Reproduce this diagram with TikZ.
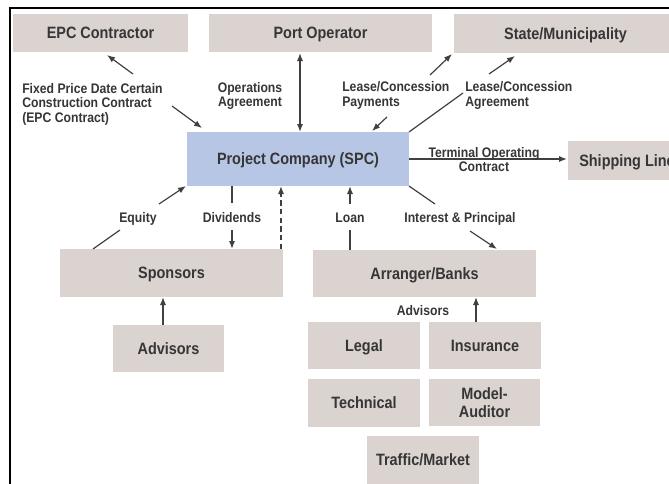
\documentclass[tikz,border=0pt]{standalone}
\usepackage{fontspec}
\setmainfont{Liberation Sans}[FakeStretch=0.88]
\usetikzlibrary{arrows.meta}
\definecolor{boxgrey}{HTML}{DAD3CF}
\definecolor{spcblue}{HTML}{B8C6E5}
\definecolor{txt}{HTML}{363636}
\definecolor{ln}{HTML}{404040}
\tikzset{
  box/.style 2 args={fill=boxgrey, draw=none, inner sep=0pt, minimum width=#1*0.75pt, minimum height=#2*0.75pt,
    text=txt, font=\fontsize{12.3}{14}\selectfont\bfseries, align=center},
  oneline/.style={text height=8.8pt, text depth=0pt},
  lbl/.style={text=txt, font=\fontsize{10.4}{10.9}\selectfont\bfseries, inner sep=0pt},
  conn/.style={draw=ln, line width=0.9pt},
  arr/.style={conn, -{Latex[length=6pt,width=4.6pt]}},
  darr/.style={conn, {Latex[length=6pt,width=4.6pt]}-{Latex[length=6pt,width=4.6pt]}},
}
\begin{document}
\begin{tikzpicture}[x=0.75pt,y=-0.75pt]
\clip (0,0) rectangle (669,483);
\fill[white] (0,0) rectangle (669,483);
% frame
\draw[black, line width=1.3pt] (669,8) -- (10,8) -- (10,484);
% boxes
\node[box={175}{38}, oneline] (epc) at (100.5,33) {EPC Contractor};
\node[box={223}{38}, oneline] (port) at (320.5,33) {Port Operator};
\node[box={223}{39}, oneline] (state) at (565.5,33.5) {State/Municipality};
\node[box={222}{54}, oneline, fill=spcblue] (spc) at (298,159) {Project Company (SPC)};
\node[box={118}{39}, oneline] (ship) at (627,160.5) {Shipping Line};
\node[box={223}{48}, oneline] (spons) at (171.5,273) {Sponsors};
\node[box={111}{47}, oneline] (adv) at (168.5,348.5) {Advisors};
\node[box={223}{47}, oneline] (bank) at (424.5,273.5) {Arranger/Banks};
\node[box={112}{47}, oneline] (legal) at (364,345.5) {Legal};
\node[box={112}{47}, oneline] (ins) at (485,345.5) {Insurance};
\node[box={112}{48}, oneline] (tech) at (364,403) {Technical};
\node[box={111}{47}] (model) at (484.5,402.5) {Model-\\Auditor};
\node[box={112}{48}, oneline] (traffic) at (423,460) {Traffic/Market};
% labels
\node[lbl, anchor=west, align=left] (lepc) at (22,104) {Fixed Price Date Certain\\Construction Contract\\(EPC Contract)};
\node[lbl, align=center] (lops) at (250,96) {Operations\\Agreement};
\node[lbl, anchor=west, align=left] (lpay) at (342,95.5) {Lease/Concession\\Payments};
\node[lbl, anchor=west, align=left] (lagr) at (465,95.5) {Lease/Concession\\Agreement};
\node[lbl, oneline] (leq) at (138,217) {Equity};
\node[lbl, oneline] (ldiv) at (232,217) {Dividends};
\node[lbl, oneline] (lloan) at (350,217) {Loan};
\node[lbl, oneline] (lint) at (460,217) {Interest \& Principal};
\node[lbl, oneline] (ladv) at (423,310) {Advisors};
% coordinates
\coordinate (e1) at (133,74); \coordinate (e2) at (107,55);
\coordinate (e3) at (172,106); \coordinate (e4) at (202,128);
\coordinate (o1) at (300,53); \coordinate (o2) at (300,132);
\coordinate (p1) at (430,75); \coordinate (p2) at (452,54);
\coordinate (p3) at (387,117); \coordinate (p4) at (372,131);
\coordinate (a1) at (409,132); \coordinate (a2) at (463,93);
\coordinate (a3) at (489,74); \coordinate (a4) at (515,56);
\coordinate (t1) at (409,159); \coordinate (t2) at (567,159);
\coordinate (q1) at (93,249); \coordinate (q2) at (120,230);
\coordinate (q3) at (159,204); \coordinate (q4) at (186,186);
\coordinate (d1) at (232,186); \coordinate (d2) at (232,203);
\coordinate (d3) at (232,230); \coordinate (d4) at (232,249);
\coordinate (s1) at (281,249); \coordinate (s2) at (281,186);
\coordinate (n1) at (350,250); \coordinate (n2) at (350,230);
\coordinate (n3) at (350,204); \coordinate (n4) at (350,186);
\coordinate (i1) at (409,186); \coordinate (i2) at (435,204);
\coordinate (i3) at (470,231); \coordinate (i4) at (497,249);
\coordinate (v1) at (476,322); \coordinate (v2) at (476,297);
\coordinate (w1) at (163,325); \coordinate (w2) at (163,297);
% connectors
\draw[arr] (e1) -- (e2);
\draw[arr] (e3) -- (e4);
\draw[darr] (o1) -- (o2);
\draw[arr] (p1) -- (p2);
\draw[arr] (p3) -- (p4);
\draw[conn] (a1) -- (a2);
\draw[arr] (a3) -- (a4);
\draw[arr] (t1) -- (t2);
\node[lbl, align=center] (lterm) at (484,159.5) {Terminal Operating\\Contract};
\draw[conn] (q1) -- (q2);
\draw[arr] (q3) -- (q4);
\draw[conn] (d1) -- (d2);
\draw[arr] (d3) -- (d4);
\draw[arr, dash pattern=on 4pt off 2.5pt] (s1) -- (s2);
\draw[conn] (n1) -- (n2);
\draw[arr] (n3) -- (n4);
\draw[conn] (i1) -- (i2);
\draw[arr] (i3) -- (i4);
\draw[arr] (v1) -- (v2);
\draw[arr] (w1) -- (w2);
\end{tikzpicture}
\end{document}
